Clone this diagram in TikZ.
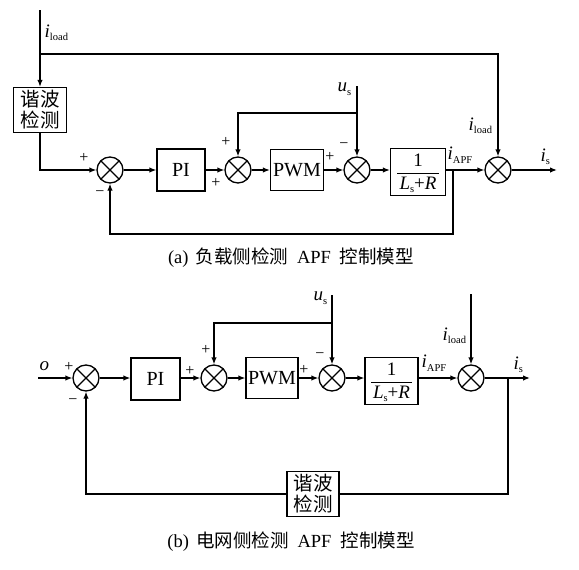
\documentclass[tikz,border=0pt]{standalone}
\usepackage{fontspec}
\setmainfont{Liberation Serif}
\newfontfamily\cjk{Noto Sans CJK SC}
\usetikzlibrary{arrows.meta}
\newcommand{\lowsub}[1]{\raisebox{-3.5pt}{\fontsize{10.5}{10.5}\selectfont #1}}
\begin{document}
\begin{tikzpicture}[x=1pt,y=-1pt, line width=1.3pt, >={Latex[length=7pt,width=5.5pt]},
 sumnode/.style={circle,draw,minimum size=26pt,inner sep=0pt,
   path picture={\draw[line width=1.3pt] (path picture bounding box.north west)--(path picture bounding box.south east)
     (path picture bounding box.north east)--(path picture bounding box.south west);}},
 blk/.style={draw, rectangle, inner sep=0pt, font=\fontsize{20}{20}\selectfont},
 cjkblk/.style={draw, rectangle, inner sep=0pt, align=center, font=\cjk\fontsize{19.5}{21}\selectfont},
 lbl/.style={inner sep=0pt, font=\fontsize{19}{19}\selectfont},
 sgn/.style={inner sep=0pt, font=\fontsize{16}{16}\selectfont},
 captext/.style={inner sep=0pt, font=\fontsize{18.5}{18.5}\selectfont}]
\useasboundingbox (0,0) rectangle (579,570);
% ---------------- (a) ----------------
\coordinate (ta) at (40,10);
\coordinate (sp1) at (40,54);
\node[cjkblk, minimum width=53pt, minimum height=45pt] (hd1) at (40,110) {谐波\\检测};
\node[sumnode] (s1) at (110,170) {};
\node[blk, minimum width=48pt, minimum height=42pt] (pi1) at (181,170) {PI};
\node[sumnode] (s2) at (238,170) {};
\node[blk, minimum width=53pt, minimum height=41pt] (pwm1) at (297,170) {PWM};
\node[sumnode] (s3) at (357,170) {};
\node[blk, minimum width=55pt, minimum height=47pt] (f1) at (418,172) {};
\node[lbl] (f1n) at (418,160) {1};
\node[lbl] (f1d) at (418,185) {\textit{L}\lowsub{s}+\textit{R}};
\draw[line width=1pt] (397,173) -- (439,173);
\node[sumnode] (s4) at (498,170) {};
\coordinate (o1) at (557,170);
\coordinate (us1) at (357,86);
\coordinate (j1) at (357,113);
\coordinate (fb1) at (453,170);
\coordinate (fbc1) at (453,234);

\draw[->] (ta) -- (hd1.north);
\draw[->] (sp1) -| (s4.north);
\draw[->] (hd1.south) |- (s1.west);
\draw[->] (s1.east) -- (pi1.west);
\draw[->] (pi1.east) -- (s2.west);
\draw[->] (s2.east) -- (pwm1.west);
\draw[->] (pwm1.east) -- (s3.west);
\draw[->] (s3.east) -- (f1.west |- s3.east);
\draw[->] (f1.east |- s4.west) -- (s4.west);
\draw[->] (s4.east) -- (o1);
\draw[->] (us1) -- (s3.north);
\draw[->] (j1) -| (s2.north);
\draw[->] (fb1) -- (fbc1) -| (s1.south);

\node[lbl, anchor=west] (l1) at (44,33) {\textit{i}\lowsub{load}};
\node[lbl, anchor=west] (l2) at (337,89) {\textit{u}\lowsub{s}};
\node[lbl, anchor=west] (l3) at (468,126) {\textit{i}\lowsub{load}};
\node[lbl, anchor=west] (l4) at (447,155) {\textit{i}\lowsub{APF}};
\node[lbl, anchor=west] (l5) at (540,157) {\textit{i}\lowsub{s}};
\node[sgn] (g1) at (84,158) {+};
\node[sgn] (g2) at (100,194) {−};
\node[sgn] (g3) at (226,142) {+};
\node[sgn] (g4) at (216,183) {+};
\node[sgn] (g5) at (344,146) {−};
\node[sgn] (g6) at (330,157) {+};
\node[captext] (capa) at (291,258) {(a)\hspace{7pt}{\cjk 负载侧检测}\hspace{9pt}APF\hspace{9pt}{\cjk 控制模型}};
% ---------------- (b) ----------------
\coordinate (in2) at (38,378);
\node[sumnode] (t1) at (86,378) {};
\node[blk, minimum width=49pt, minimum height=42pt] (pi2) at (155.5,379) {PI};
\node[sumnode] (t2) at (214,378) {};
\node[blk, minimum width=52pt, minimum height=41pt] (pwm2) at (272,378) {PWM};
\node[sumnode] (t3) at (332,378) {};
\node[blk, minimum width=53pt, minimum height=47pt] (f2) at (391.5,381) {};
\node[lbl] (f2n) at (391.5,369) {1};
\node[lbl] (f2d) at (391.5,394) {\textit{L}\lowsub{s}+\textit{R}};
\draw[line width=1pt] (371,382) -- (412,382);
\node[sumnode] (t4) at (471,378) {};
\coordinate (o2) at (530,378);
\coordinate (us2) at (332,295);
\coordinate (j2) at (332,323);
\coordinate (il2) at (471,294);
\coordinate (fb2) at (508,378);
\coordinate (fbc2) at (508,494);
\node[cjkblk, minimum width=52pt, minimum height=45pt] (hd2) at (313,494) {谐波\\检测};

\draw[->] (in2) -- (t1.west);
\draw[->] (t1.east) -- (pi2.west |- t1.east);
\draw[->] (pi2.east |- t2.west) -- (t2.west);
\draw[->] (t2.east) -- (pwm2.west);
\draw[->] (pwm2.east) -- (t3.west);
\draw[->] (t3.east) -- (f2.west |- t3.east);
\draw[->] (f2.east |- t4.west) -- (t4.west);
\draw[->] (t4.east) -- (o2);
\draw[->] (us2) -- (t3.north);
\draw[->] (j2) -| (t2.north);
\draw[->] (il2) -- (t4.north);
\draw (fb2) -- (fbc2) -- (hd2.east);
\draw[->] (hd2.west) -| (t1.south);

\node[lbl, anchor=west] (m0) at (39,366) {\textit{o}};
\node[lbl, anchor=west] (m2) at (313,298) {\textit{u}\lowsub{s}};
\node[lbl, anchor=west] (m3) at (442,336) {\textit{i}\lowsub{load}};
\node[lbl, anchor=west] (m4) at (421,363) {\textit{i}\lowsub{APF}};
\node[lbl, anchor=west] (m5) at (513,365) {\textit{i}\lowsub{s}};
\node[sgn] (h1) at (69,367) {+};
\node[sgn] (h2) at (73,402) {−};
\node[sgn] (h3) at (190,371) {+};
\node[sgn] (h4) at (206,350) {+};
\node[sgn] (h5) at (320,356) {−};
\node[sgn] (h6) at (304,370) {+};
\node[captext] (capb) at (291,542) {(b)\hspace{7pt}{\cjk 电网侧检测}\hspace{9pt}APF\hspace{9pt}{\cjk 控制模型}};
\end{tikzpicture}
\end{document}
